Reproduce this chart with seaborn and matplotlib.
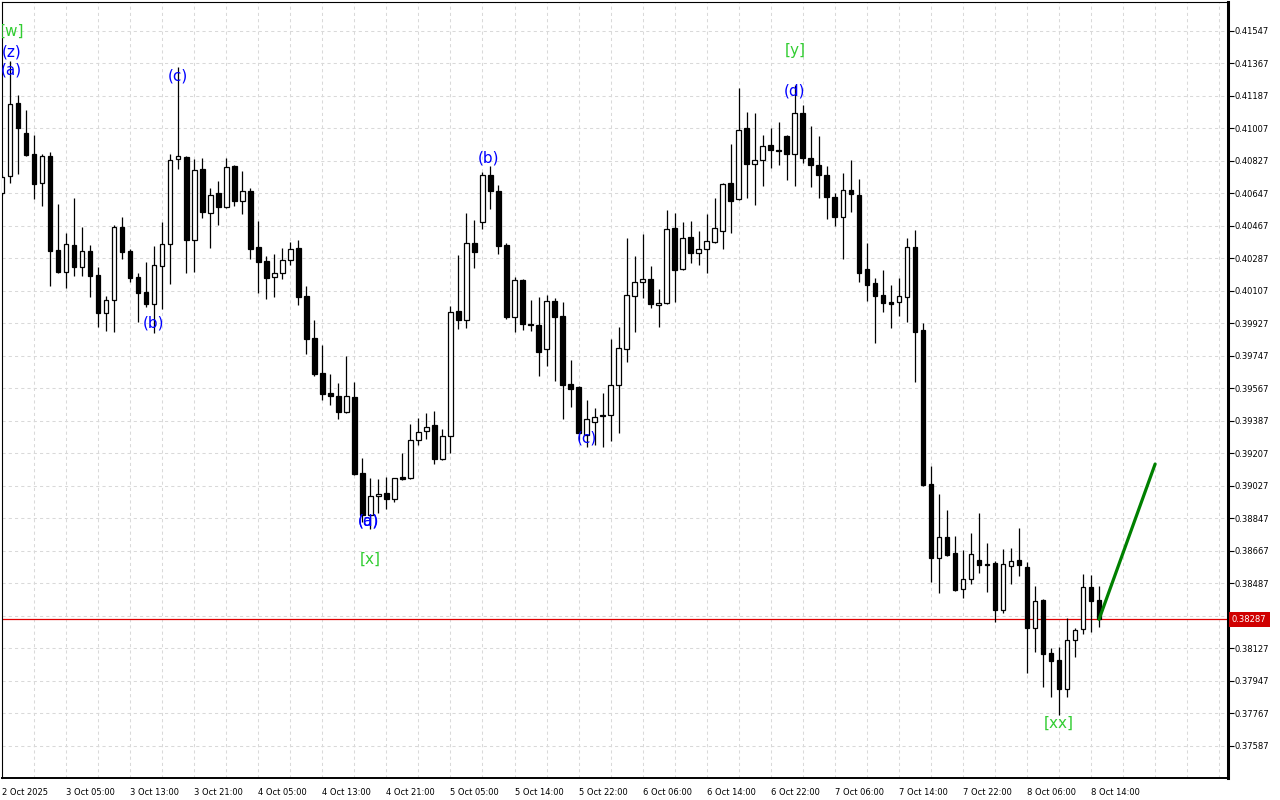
import matplotlib
matplotlib.use('Agg')
import matplotlib.pyplot as plt
import matplotlib.transforms as mtransforms
import seaborn as sns
import numpy as np
import pandas as pd

# hourly candles, 2 Oct 21:00 -> 8 Oct 15:00
opens = [
    0.40648, 0.40742, 0.41147, 0.40980, 0.40864, 0.40704, 0.40853, 0.40333, 0.40211, 0.40360,
    0.40238, 0.40327, 0.40194, 0.39984, 0.40056, 0.40460, 0.40327, 0.40183, 0.40100, 0.40033,
    0.40244, 0.40366, 0.40836, 0.40848, 0.40388, 0.40781, 0.40537, 0.40648, 0.40571, 0.40798,
    0.40604, 0.40659, 0.40349, 0.40272, 0.40183, 0.40205, 0.40277, 0.40344, 0.40078, 0.39845,
    0.39651, 0.39541, 0.39524, 0.39435, 0.39518, 0.39098, 0.38865, 0.38970, 0.38987, 0.38954,
    0.39075, 0.39070, 0.39280, 0.39330, 0.39363, 0.39175, 0.39302, 0.39995, 0.39945, 0.40371,
    0.40488, 0.40748, 0.40659, 0.40360, 0.39961, 0.40166, 0.39923, 0.39917, 0.39784, 0.40050,
    0.39967, 0.39590, 0.39574, 0.39308, 0.39380, 0.39419, 0.39419, 0.39585, 0.39784, 0.40078,
    0.40155, 0.40172, 0.40028, 0.40039, 0.40454, 0.40227, 0.40405, 0.40316, 0.40338, 0.40377,
    0.40438, 0.40704, 0.40615, 0.41008, 0.40809, 0.40831, 0.40914, 0.40886, 0.40964, 0.40864,
    0.41091, 0.40842, 0.40803, 0.40748, 0.40626, 0.40515, 0.40665, 0.40637, 0.40227, 0.40150,
    0.40083, 0.40045, 0.40045, 0.40072, 0.40349, 0.39890, 0.39037, 0.38627, 0.38743, 0.38655,
    0.38455, 0.38511, 0.38616, 0.38594, 0.38599, 0.38339, 0.38583, 0.38616, 0.38577, 0.38239,
    0.38394, 0.38101, 0.38062, 0.37901, 0.38173, 0.38234, 0.38466, 0.38394,
]
highs = [
    0.40748, 0.41379, 0.41191, 0.41108, 0.40969, 0.40864, 0.40875, 0.40587, 0.40427, 0.40621,
    0.40460, 0.40360, 0.40238, 0.40078, 0.40471, 0.40515, 0.40338, 0.40205, 0.40266, 0.40355,
    0.40488, 0.40864, 0.41346, 0.40853, 0.40836, 0.40842, 0.40676, 0.40715, 0.40842, 0.40803,
    0.40770, 0.40676, 0.40493, 0.40299, 0.40310, 0.40344, 0.40377, 0.40388, 0.40133, 0.39945,
    0.39806, 0.39646, 0.39596, 0.39746, 0.39602, 0.39181, 0.39070, 0.39064, 0.39075, 0.39070,
    0.39208, 0.39369, 0.39402, 0.39430, 0.39441, 0.39341, 0.40022, 0.40305, 0.40537, 0.40499,
    0.40764, 0.40798, 0.40692, 0.40371, 0.40183, 0.40172, 0.40056, 0.40072, 0.40083, 0.40067,
    0.40045, 0.39723, 0.39579, 0.39502, 0.39458, 0.39541, 0.39840, 0.39906, 0.40399, 0.40299,
    0.40421, 0.40244, 0.40117, 0.40554, 0.40537, 0.40488, 0.40493, 0.40438, 0.40532, 0.40621,
    0.40704, 0.40920, 0.41230, 0.41097, 0.41091, 0.40969, 0.41008, 0.41041, 0.40969, 0.41246,
    0.41135, 0.41019, 0.40964, 0.40798, 0.40648, 0.40759, 0.40831, 0.40726, 0.40371, 0.40177,
    0.40222, 0.40139, 0.40177, 0.40399, 0.40443, 0.39928, 0.39136, 0.38981, 0.38893, 0.38749,
    0.38671, 0.38765, 0.38876, 0.38710, 0.38610, 0.38677, 0.38682, 0.38793, 0.38605, 0.38472,
    0.38400, 0.38128, 0.38134, 0.38295, 0.38239, 0.38538, 0.38533, 0.38472,
]
lows = [
    0.40637, 0.40704, 0.40753, 0.40853, 0.40615, 0.40576, 0.40133, 0.40205, 0.40122, 0.40189,
    0.40189, 0.40072, 0.39906, 0.39884, 0.39878, 0.40283, 0.40155, 0.39934, 0.40017, 0.39873,
    0.40006, 0.40144, 0.40781, 0.40205, 0.40211, 0.40510, 0.40344, 0.40471, 0.40565, 0.40576,
    0.40532, 0.40283, 0.40094, 0.40061, 0.40072, 0.40172, 0.40249, 0.40028, 0.39757, 0.39635,
    0.39502, 0.39474, 0.39397, 0.39430, 0.39086, 0.38826, 0.38787, 0.38876, 0.38898, 0.38937,
    0.39059, 0.39064, 0.39253, 0.39286, 0.39147, 0.39170, 0.39208, 0.39895, 0.39901, 0.40233,
    0.40449, 0.40560, 0.40310, 0.39950, 0.39878, 0.39890, 0.39884, 0.39635, 0.39690, 0.39607,
    0.39397, 0.39463, 0.39280, 0.39242, 0.39253, 0.39242, 0.39275, 0.39319, 0.39712, 0.39878,
    0.40067, 0.40011, 0.39906, 0.40033, 0.40045, 0.40222, 0.40261, 0.40249, 0.40205, 0.40371,
    0.40338, 0.40427, 0.40609, 0.40621, 0.40582, 0.40687, 0.40787, 0.40803, 0.40720, 0.40687,
    0.40814, 0.40681, 0.40621, 0.40504, 0.40465, 0.40283, 0.40543, 0.40155, 0.40050, 0.39818,
    0.39989, 0.39901, 0.39967, 0.39934, 0.39602, 0.39025, 0.38494, 0.38433, 0.38638, 0.38444,
    0.38405, 0.38483, 0.38544, 0.38439, 0.38272, 0.38322, 0.38483, 0.38527, 0.37990, 0.38106,
    0.37912, 0.37857, 0.37757, 0.37857, 0.38079, 0.38206, 0.38217, 0.38245,
]
closes = [
    0.40737, 0.41141, 0.41008, 0.40859, 0.40698, 0.40853, 0.40327, 0.40211, 0.40366, 0.40238,
    0.40327, 0.40189, 0.39984, 0.40056, 0.40460, 0.40321, 0.40177, 0.40094, 0.40033, 0.40249,
    0.40366, 0.40831, 0.40853, 0.40388, 0.40776, 0.40543, 0.40637, 0.40571, 0.40792, 0.40604,
    0.40659, 0.40338, 0.40266, 0.40177, 0.40205, 0.40277, 0.40338, 0.40072, 0.39840, 0.39646,
    0.39535, 0.39524, 0.39435, 0.39524, 0.39092, 0.38865, 0.38970, 0.38981, 0.38954, 0.39070,
    0.39064, 0.39280, 0.39325, 0.39352, 0.39175, 0.39302, 0.39989, 0.39945, 0.40371, 0.40321,
    0.40748, 0.40659, 0.40355, 0.39961, 0.40166, 0.39923, 0.39917, 0.39768, 0.40050, 0.39961,
    0.39585, 0.39563, 0.39319, 0.39397, 0.39408, 0.39413, 0.39585, 0.39790, 0.40083, 0.40155,
    0.40172, 0.40033, 0.40039, 0.40449, 0.40222, 0.40399, 0.40316, 0.40338, 0.40382, 0.40454,
    0.40698, 0.40604, 0.40997, 0.40809, 0.40831, 0.40909, 0.40886, 0.40881, 0.40864, 0.41091,
    0.40842, 0.40803, 0.40748, 0.40626, 0.40515, 0.40665, 0.40643, 0.40205, 0.40139, 0.40078,
    0.40039, 0.40033, 0.40078, 0.40349, 0.39878, 0.39031, 0.38627, 0.38743, 0.38643, 0.38450,
    0.38511, 0.38649, 0.38588, 0.38588, 0.38339, 0.38594, 0.38610, 0.38588, 0.38239, 0.38389,
    0.38095, 0.38056, 0.37901, 0.38173, 0.38228, 0.38466, 0.38389, 0.38287,
]

time_labels = ['2 Oct 2025', '3 Oct 05:00', '3 Oct 13:00', '3 Oct 21:00', '4 Oct 05:00',
               '4 Oct 13:00', '4 Oct 21:00', '5 Oct 05:00', '5 Oct 14:00', '5 Oct 22:00',
               '6 Oct 06:00', '6 Oct 14:00', '6 Oct 22:00', '7 Oct 06:00', '7 Oct 14:00',
               '7 Oct 22:00', '8 Oct 06:00', '8 Oct 14:00']
time_label_bars = [0, 8, 16, 24, 32, 40, 48, 56, 64, 72, 80, 88, 96, 104, 112, 120, 128, 136]

price_ticks = [0.41547, 0.41367, 0.41187, 0.41007, 0.40827, 0.40647, 0.40467, 0.40287,
               0.40107, 0.39927, 0.39747, 0.39567, 0.39387, 0.39207, 0.39027, 0.38847,
               0.38667, 0.38487, 0.38307, 0.38127, 0.37947, 0.37767, 0.37587]

last_price = 0.38287

# projected move (green line)
proj_bars = [137, 144]
proj_prices = [0.38287, 0.39147]

# wave labels: text, bar position, price, colour group
wave_text = ['[w]', '(z)', '(a)', '(c)', '(b)', '(a)', '(d)', '[x]', '(b)', '(c)', '[y]', '(d)', '[xx]']
wave_bar = [1.2, 1.2, 1.2, 22, 18.9, 45.8, 45.8, 46, 60.7, 73, 99, 99, 132]
wave_price = [0.41545, 0.41429, 0.41329, 0.41296, 0.39928, 0.38832, 0.38832, 0.38622,
              0.40842, 0.39291, 0.41435, 0.41213, 0.37713]
wave_kind = ['major', 'minor', 'minor', 'minor', 'minor', 'minor', 'minor', 'major',
             'minor', 'minor', 'major', 'minor', 'major']

WAVE_COLORS = {'major': '#32cd32', 'minor': '#0000ff'}

sns.set_style('white')
plt.rcParams['font.family'] = ['DejaVu Sans']

df = pd.DataFrame({'open': opens, 'high': highs, 'low': lows, 'close': closes})
df['bar'] = np.arange(len(df))
df['up'] = df['close'] >= df['open']

fig = plt.figure(figsize=(12.8, 8), dpi=100)
ax = fig.add_axes([2 / 1280, 22 / 800, 1226 / 1280, 776 / 800])
ax.set_xlim(0, 153.1)
ax.set_ylim(0.37408, 0.41706)

# dashed grid
for v in price_ticks:
    ax.axhline(v, color='#d9d9d9', lw=0.75, ls=(0, (3, 3)), zorder=0)
for b in range(0, 154, 4):
    ax.axvline(b, color='#d9d9d9', lw=0.75, ls=(0, (3, 3)), zorder=0)

# candles
ax.vlines(df['bar'], df['low'], df['high'], color='black', lw=0.9, zorder=2)
body_lo = np.minimum(df['open'], df['close'])
body_h = np.abs(df['close'] - df['open'])
ax.bar(df['bar'], body_h, bottom=body_lo, width=0.58,
       color=np.where(df['up'], 'white', 'black'),
       edgecolor='black', linewidth=0.9, zorder=3)

# last price line
ax.axhline(last_price, color='#e00000', lw=0.9, zorder=1)

# projection
sns.lineplot(x=proj_bars, y=proj_prices, ax=ax, color='#008000', lw=2.3, zorder=4)

# wave labels
for t, b, p, k in zip(wave_text, wave_bar, wave_price, wave_kind):
    ax.text(b, p, t, color=WAVE_COLORS[k], fontsize=11, ha='center', va='center',
            clip_on=True, zorder=5)

# axes
ax.set_xticks(time_label_bars)
ax.set_xticklabels(time_labels, ha='left', fontsize=6)
ax.yaxis.tick_right()
ax.set_yticks(price_ticks)
# the tick next to the live price is covered by the price tag
ax.set_yticklabels(['' if abs(v - last_price) < 0.0005 else f'{v:.5f}' for v in price_ticks],
                   fontsize=6)
ax.tick_params(axis='x', direction='out', length=5, width=0.8, pad=2, colors='black')
ax.tick_params(axis='y', direction='out', length=4, width=0.8, pad=1, colors='black')

for side in ['top', 'left']:
    ax.spines[side].set_linewidth(0.8)
    ax.spines[side].set_color('black')
ax.spines['right'].set_linewidth(2.2)
ax.spines['bottom'].set_linewidth(1.4)
ax.spines['right'].set_color('black')
ax.spines['bottom'].set_color('black')

# price tag on the axis
trans = mtransforms.offset_copy(ax.get_yaxis_transform(), fig=fig, x=4, y=0, units='dots')
ax.text(1.0, last_price, '0.38287', transform=trans, color='white', fontsize=6,
        ha='left', va='center', clip_on=False, zorder=10,
        bbox=dict(boxstyle='square,pad=0.35', facecolor='#d00000', edgecolor='none'))

ax.set_xlabel('')
ax.set_ylabel('')
fig.savefig('out.png', dpi=100)
